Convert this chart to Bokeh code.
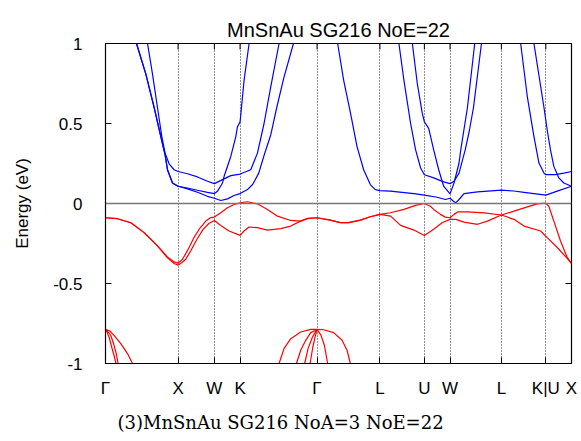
import math
from bokeh.plotting import figure
from bokeh.models import FixedTicker, Span, Title, Range1d
from bokeh.embed import file_html
from bokeh.resources import INLINE

# ---- k-path ticks ----
k_ticks = [0.0, 1.0, 1.5, 1.8536, 2.9142, 3.7802, 4.3926, 4.7462, 5.4533, 6.0657, 6.4193]
k_labels = ["Γ", "X", "W", "K", "Γ", "L", "U", "W", "L", "K|U", "X"]
e_ticks = [-1.0, -0.5, 0.0, 0.5, 1.0]
e_labels = ["-1", "-0.5", "0", "0.5", "1"]

# ---- conduction bands (blue) ----
cb1_k = [0.427, 0.555, 0.670, 0.762, 0.821, 0.854, 0.923, 1.0, 1.129, 1.267, 1.405, 1.5,
         1.543, 1.612, 1.634, 1.726, 1.795, 1.818, 1.854, 1.909, 1.978]
cb1_e = [1.0, 0.81, 0.60, 0.418, 0.304, 0.211, 0.128, 0.108, 0.097, 0.083, 0.070, 0.062,
         0.077, 0.128, 0.17, 0.294, 0.418, 0.48, 0.51, 0.77, 1.0]
cb2_k = [0.427, 0.555, 0.670, 0.762, 0.821, 0.854, 0.923, 1.0, 1.129, 1.267, 1.405, 1.5,
         1.588, 1.680, 1.771, 1.854, 1.956, 2.029, 2.111, 2.184, 2.277, 2.359, 2.459, 2.589]
cb2_e = [1.0, 0.81, 0.60, 0.418, 0.304, 0.211, 0.128, 0.108, 0.091, 0.070, 0.045, 0.033,
         0.019, 0.029, 0.050, 0.062, 0.087, 0.12, 0.19, 0.30, 0.43, 0.6, 0.79, 1.0]
cb3_k = [0.579, 0.647, 0.716, 0.776, 0.821, 0.876, 0.945, 1.0, 1.129, 1.267, 1.405, 1.5,
         1.612, 1.726, 1.854, 2.001, 2.093, 2.184, 2.277, 2.391]
cb3_e = [1.0, 0.81, 0.60, 0.418, 0.315, 0.248, 0.211, 0.20, 0.186, 0.166, 0.139, 0.124,
         0.149, 0.174, 0.184, 0.211, 0.315, 0.50, 0.73, 1.0]
cb4_k = [3.198, 3.281, 3.373, 3.465, 3.556, 3.648, 3.717, 3.7802, 3.928, 4.020, 4.249, 4.3926,
         4.568, 4.682, 4.7462, 4.793, 4.825, 4.870, 4.939, 5.124, 5.4533, 5.627, 5.765, 6.0657,
         6.223, 6.4193]
cb4_e = [1.0, 0.77, 0.57, 0.356, 0.211, 0.118, 0.087, 0.081, 0.077, 0.073, 0.062, 0.052,
         0.039, 0.025, 0.033, 0.014, 0.004, 0.025, 0.062, 0.073, 0.083, 0.078, 0.070, 0.052,
         0.077, 0.108]
cb5_k = [4.227, 4.295, 4.364, 4.3926, 4.452, 4.521, 4.590, 4.658, 4.7462, 4.801, 4.870, 4.894,
         4.986, 5.086]
cb5_e = [1.0, 0.75, 0.563, 0.511, 0.47, 0.335, 0.211, 0.108, 0.060, 0.128, 0.253, 0.335,
         0.60, 1.0]
cb6_k = [4.042, 4.111, 4.203, 4.272, 4.341, 4.3926, 4.521, 4.658, 4.7462, 4.801, 4.870, 4.955,
         5.010, 5.069, 5.179]
cb6_e = [1.0, 0.77, 0.50, 0.335, 0.222, 0.18, 0.16, 0.135, 0.124, 0.139, 0.19, 0.335,
         0.45, 0.6, 1.0]
cb7_k = [5.719, 5.811, 5.902, 5.971, 6.040, 6.0657, 6.199, 6.314, 6.4193]
cb7_e = [1.0, 0.667, 0.418, 0.253, 0.19, 0.18, 0.18, 0.19, 0.20]
cb8_k = [5.902, 5.971, 6.040, 6.088, 6.130, 6.176, 6.245, 6.314, 6.4193]
cb8_e = [1.0, 0.80, 0.6, 0.45, 0.335, 0.232, 0.16, 0.128, 0.108]

# ---- valence bands (red) ----
vb1_k = [0, 0.165, 0.349, 0.532, 0.716, 0.854, 0.945, 1.0, 1.061, 1.134, 1.216, 1.299, 1.382,
         1.450, 1.5, 1.588, 1.680, 1.771, 1.854, 1.956, 2.093, 2.231, 2.369, 2.552, 2.689, 2.782,
         2.9142, 3.097, 3.235, 3.350, 3.511, 3.648, 3.7802, 3.928, 4.111, 4.272, 4.3926, 4.475,
         4.521, 4.613, 4.682, 4.7462, 4.801, 4.856, 4.986, 5.215, 5.4533, 5.627, 5.811, 5.949,
         6.0657, 6.107, 6.176, 6.268, 6.360, 6.4193]
vb1_e = [-0.089, -0.095, -0.12, -0.182, -0.265, -0.335, -0.365, -0.373, -0.348, -0.29, -0.215,
         -0.155, -0.11, -0.088, -0.085, -0.058, -0.027, -0.006, 0.004, 0.011, -0.002, -0.037,
         -0.079, -0.106, -0.11, -0.093, -0.089, -0.104, -0.12, -0.12, -0.104, -0.083, -0.068,
         -0.058, -0.037, -0.012, 0.0, -0.017, -0.037, -0.068, -0.085, -0.089, -0.068, -0.052,
         -0.052, -0.058, -0.072, -0.048, -0.021, -0.002, 0.002, -0.017, -0.11, -0.234, -0.337,
         -0.375]
vb2_k = [0, 0.165, 0.349, 0.532, 0.716, 0.854, 0.945, 1.0, 1.051, 1.106, 1.175, 1.258, 1.340,
         1.423, 1.5, 1.588, 1.702, 1.854, 1.909, 1.978, 2.093, 2.231, 2.414, 2.552, 2.689, 2.782,
         2.9142, 3.097, 3.235, 3.350, 3.511, 3.648, 3.7802, 3.928, 4.065, 4.249, 4.3926, 4.521,
         4.636, 4.7462, 4.825, 4.939, 5.124, 5.261, 5.4533, 5.627, 5.765, 5.995, 6.0657, 6.085,
         6.223, 6.360, 6.4193]
vb2_e = [-0.089, -0.095, -0.12, -0.182, -0.265, -0.34, -0.375, -0.385, -0.37, -0.348, -0.295,
         -0.225, -0.165, -0.125, -0.106, -0.137, -0.172, -0.199, -0.172, -0.147, -0.151, -0.166,
         -0.157, -0.141, -0.11, -0.095, -0.089, -0.104, -0.12, -0.12, -0.104, -0.083, -0.068,
         -0.079, -0.137, -0.166, -0.2, -0.161, -0.12, -0.099, -0.099, -0.116, -0.13, -0.11,
         -0.072, -0.099, -0.141, -0.172, -0.205, -0.213, -0.275, -0.343, -0.375]

# deep valence bands around Gamma (~ -0.79 eV)
deep_k = [
    [0.0, 0.06, 0.118, 0.211, 0.303, 0.372],
    [0.0, 0.032, 0.073, 0.114, 0.149, 0.174],
    [0.0, 0.018, 0.052, 0.087, 0.118, 0.145],
    [2.391, 2.459, 2.552, 2.689, 2.827, 2.9142],
    [2.630, 2.689, 2.758, 2.827, 2.9142],
    [2.744, 2.790, 2.851, 2.9142],
    [2.818, 2.855, 2.889, 2.9142],
    [2.9142, 3.005, 3.143, 3.259, 3.327, 3.373],
    [2.9142, 2.969, 3.015, 3.060],
]
deep_e = [
    [-0.787, -0.797, -0.824, -0.876, -0.938, -1.0],
    [-0.787, -0.80, -0.825, -0.88, -0.94, -1.0],
    [-0.787, -0.80, -0.84, -0.90, -0.95, -1.0],
    [-1.0, -0.907, -0.845, -0.803, -0.787, -0.787],
    [-1.0, -0.917, -0.855, -0.807, -0.787],
    [-1.0, -0.907, -0.834, -0.787],
    [-1.0, -0.90, -0.83, -0.787],
    [-0.787, -0.789, -0.807, -0.855, -0.917, -1.0],
    [-0.787, -0.824, -0.886, -1.0],
]

cond_k = [cb1_k, cb2_k, cb3_k, cb4_k, cb5_k, cb6_k, cb7_k, cb8_k]
cond_e = [cb1_e, cb2_e, cb3_e, cb4_e, cb5_e, cb6_e, cb7_e, cb8_e]
val_k = [vb1_k, vb2_k] + deep_k
val_e = [vb1_e, vb2_e] + deep_e

FONT = "Liberation Sans"

p = figure(width=581, height=441, output_backend="svg", toolbar_location=None,
           x_range=Range1d(k_ticks[0], k_ticks[-1]), y_range=Range1d(e_ticks[0], e_ticks[-1]),
           min_border_left=105, min_border_right=10, min_border_top=43, min_border_bottom=76)
p.background_fill_color = "white"
p.border_fill_color = "white"
p.outline_line_color = "black"
p.outline_line_width = 1.2

p.title.text = "MnSnAu SG216 NoE=22"
p.title.align = "center"
p.title.text_font = FONT
p.title.text_font_size = "20px"
p.title.text_font_style = "normal"
p.title.text_color = "black"
p.title.standoff = 6

# grid: dotted verticals at k-points
p.ygrid.visible = False
p.xgrid.ticker = FixedTicker(ticks=k_ticks[1:-1])
p.xgrid.grid_line_color = "#222222"
p.xgrid.grid_line_dash = "1 2"
p.xgrid.grid_line_width = 1

# axes
xa = p.xaxis[0]
xa.ticker = FixedTicker(ticks=k_ticks)
xa.major_label_overrides = {k: lab for k, lab in zip(k_ticks, k_labels)}
ya = p.yaxis[0]
ya.ticker = FixedTicker(ticks=e_ticks)
ya.major_label_overrides = {e: lab for e, lab in zip(e_ticks, e_labels)}
ya.axis_label = "Energy (eV)"
ya.axis_label_text_font = FONT
ya.axis_label_text_font_size = "17px"
ya.axis_label_text_font_style = "normal"
ya.axis_label_text_color = "black"
ya.axis_label_standoff = 18
for ax in (xa, ya):
    ax.major_tick_in = 6
    ax.major_tick_out = 0
    ax.minor_tick_line_color = None
    ax.axis_line_color = "black"
    ax.major_tick_line_color = "black"
    ax.major_label_text_font = FONT
    ax.major_label_text_font_size = "17px"
    ax.major_label_text_color = "black"
xa.major_label_standoff = 15
ya.major_label_standoff = 23

# mirrored inward ticks on top and right edges (half of each dash is clipped by the frame)
p.scatter(x=k_ticks, y=[e_ticks[-1]] * len(k_ticks), marker="dash", size=12,
          angle=math.pi / 2, line_color="black", line_width=1)
p.scatter(x=[k_ticks[-1]] * len(e_ticks), y=e_ticks, marker="dash", size=12,
          line_color="black", line_width=1)

# zero line
p.add_layout(Span(location=0, dimension="width", line_color="#777777", line_width=1.5))

p.multi_line(xs=cond_k, ys=cond_e, line_color="#0000ff", line_width=1.2)
p.multi_line(xs=val_k, ys=val_e, line_color="#ff0000", line_width=1.2)

caption = Title(text="(3)MnSnAu SG216 NoA=3 NoE=22", align="left", offset=12,
                text_font="DejaVu Serif", text_font_size="18px", text_font_style="normal",
                text_color="black", standoff=18)
p.add_layout(caption, "below")

open("out.html", "w").write(file_html(p, INLINE))
